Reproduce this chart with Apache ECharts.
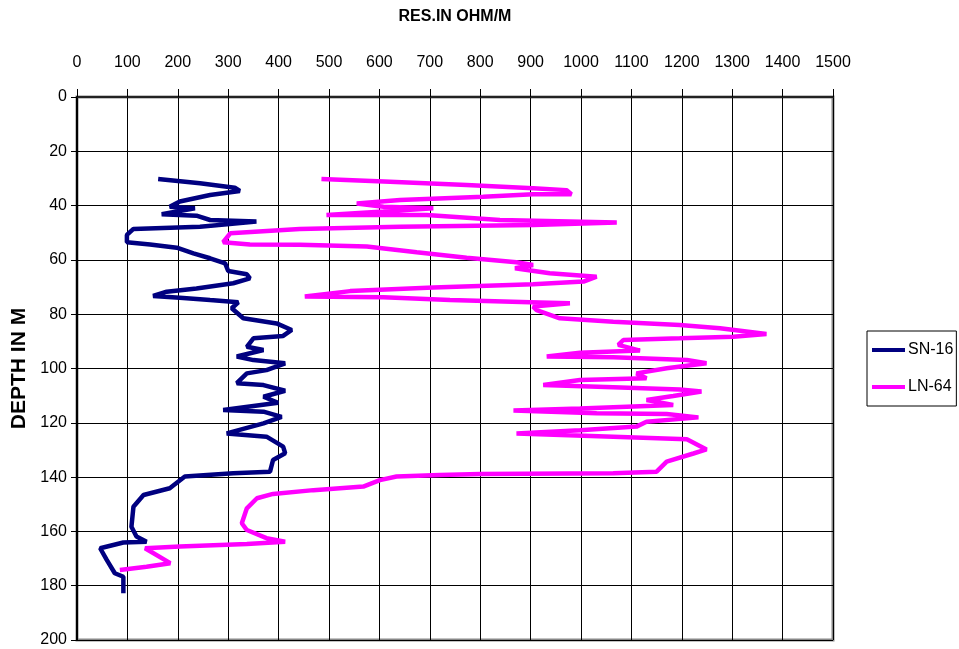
<!DOCTYPE html>
<html>
<head>
<meta charset="utf-8">
<script src="https://cdn.jsdelivr.net/npm/echarts@6/dist/echarts.min.js"></script>
<style>
  html, body { margin: 0; padding: 0; background: #fff; }
  #main { width: 959px; height: 649px; }
</style>
</head>
<body>
<div id="main"></div>
<script>
// SN-16 log: resistivity (ohm/m) and depth (m), in drawing order
var sn16Res = [161, 244, 313, 323, 264, 204, 184, 234, 168, 237, 264, 356, 244, 112, 99, 99, 145, 198, 231, 264,
    294, 300, 337, 343, 310, 237, 178, 151, 204, 264, 320, 307, 330, 396, 426, 409, 350, 337, 370, 317,
    350, 413, 376, 337, 317, 370, 413, 370, 399, 290, 370, 406, 370, 297, 376, 409, 413, 389, 383, 310,
    214, 184, 132, 112, 108, 118, 138, 92, 46, 59, 75, 92, 92];
var sn16Depth = [30.2, 31.8, 33.4, 34.6, 36.1, 38.5, 40.4, 41, 43.2, 43.7, 45.3, 45.9, 47.8, 48.6, 50.8, 53.5, 54.3, 55.5, 57.6, 59.4,
    61.3, 64.1, 65.3, 66.8, 68.6, 70.5, 71.7, 73.3, 73.9, 74.8, 75.6, 77.8, 81.5, 83.4, 85.8, 88, 88.9, 92, 93.2, 95.6,
    96.9, 98.1, 100.6, 101.8, 105.4, 106.1, 108.2, 110.4, 112.6, 115.3, 115.9, 117.8, 120.2, 123.9, 125.1, 128.8, 131.2, 133.7, 138, 138.6,
    139.8, 144.1, 146.6, 150.9, 158.3, 161.9, 163.8, 164.1, 166.2, 170.5, 175.4, 176.7, 182.8];

// LN-64 log
var ln64Res = [485, 621, 773, 905, 971, 981, 905, 806, 641, 555, 608, 707, 608, 495, 694, 839, 1071, 905, 641, 442,
    304, 290, 343, 442, 575, 674, 773, 872, 905, 869, 938, 1031, 1005, 905, 707, 542, 452, 608, 740, 899,
    978, 905, 912, 958, 1064, 1196, 1276, 1368, 1302, 1196, 1084, 1074, 1117, 998, 932, 1064, 1210, 1249, 1170, 1110,
    1130, 998, 925, 1064, 1196, 1239, 1183, 1130, 1183, 998, 866, 1031, 1170, 1233, 1130, 1110, 998, 872, 1064, 1210,
    1249, 1223, 1170, 1150, 1064, 800, 720, 634, 601, 568, 469, 389, 357, 337, 327, 337, 376, 413, 337, 204,
    135, 185, 138, 85];
var ln64Depth = [30.2, 31.2, 32.4, 33.6, 34.3, 35.8, 35.8, 36.7, 37.9, 39.2, 40.4, 41, 42.2, 43.5, 43.5, 45.3, 46.2, 47.1, 47.8, 48.6,
    50.2, 53.5, 54.3, 54.4, 55.1, 57.2, 59.2, 60.9, 61.9, 63.1, 64.9, 66.2, 68, 69, 70.2, 71.5, 73.5, 73.8, 74.8, 75.6,
    76, 77.2, 78.5, 81.5, 82.8, 84, 85.2, 87.3, 88.3, 88.9, 89.5, 91.3, 93.4, 94.2, 95.6, 95.9, 96.9, 98.1, 99.9, 101.8,
    103.6, 104.2, 106.1, 106.9, 107.7, 108.5, 110.1, 111.6, 113.4, 114.7, 115.5, 116.5, 116.8, 118, 119.6, 121.4, 122.7, 123.9, 125.1, 126.1,
    129.8, 131.3, 134.3, 138, 138.6, 138.9, 139.2, 139.8, 141.1, 143.5, 144.8, 146.2, 147.8, 151.5, 157, 159.5, 162.5, 163.8, 164.6, 165.6,
    166.2, 171.7, 173, 174.2];

var seriesNames = ['SN-16', 'LN-64'];
var seriesColors = ['#000080', '#ff00ff'];

function pairs(xs, ys){
    var out = [];
    for(var i = 0; i < xs.length; i++){
        out.push([xs[i], ys[i]]);
    }
    return out;
}

var font = "'Liberation Sans', Arial, sans-serif";

var myChart = echarts.init(document.getElementById('main'));
myChart.setOption({
    animation: false,
    color: seriesColors,
    grid: {
        left: 77, top: 97, right: 126, bottom: 9,
        outerBoundsMode: 'none',
        containLabel: false,
        show: true,
        borderColor: '#888',
        borderWidth: 3
    },
    legend: {
        orient: 'vertical',
        left: 867, top: 331,
        padding: [9, 3, 9, 5],
        itemGap: 17,
        itemWidth: 33, itemHeight: 4,
        icon: 'rect',
        borderColor: '#000', borderWidth: 1,
        textStyle: { fontFamily: font, fontSize: 16, color: '#000', lineHeight: 20, padding: [0, 0, 0, -2] },
        data: seriesNames
    },
    xAxis: {
        type: 'value',
        position: 'top',
        min: 0, max: 1500, interval: 100,
        name: 'RES.IN OHM/M',
        nameLocation: 'middle',
        nameGap: 72,
        nameTextStyle: { fontFamily: font, fontWeight: 'bold', fontSize: 16, color: '#000' },
        axisLine: { lineStyle: { color: '#222', width: 2 } },
        axisTick: { show: true, length: 8, lineStyle: { color: '#000' } },
        axisLabel: {
            margin: 26, fontFamily: font, fontSize: 16, color: '#000',
            formatter: function(v){ return String(v); }
        },
        splitLine: { lineStyle: { color: '#000', width: 1 } }
    },
    yAxis: {
        type: 'value',
        inverse: true,
        min: 0, max: 200, interval: 20,
        name: 'DEPTH IN M',
        nameLocation: 'middle',
        nameGap: 46,
        nameTextStyle: { fontFamily: font, fontWeight: 'bold', fontSize: 21, color: '#000' },
        axisLine: { lineStyle: { color: '#000', width: 2 } },
        axisTick: { show: true, length: 6, lineStyle: { color: '#000' } },
        axisLabel: { margin: 10, fontFamily: font, fontSize: 16, color: '#000' },
        splitLine: { lineStyle: { color: '#000', width: 1 } }
    },
    series: [{
        name: seriesNames[0],
        type: 'line',
        showSymbol: false,
        lineStyle: { width: 4.5, color: seriesColors[0] },
        data: pairs(sn16Res, sn16Depth)
    }, {
        name: seriesNames[1],
        type: 'line',
        showSymbol: false,
        lineStyle: { width: 4.5, color: seriesColors[1] },
        data: pairs(ln64Res, ln64Depth)
    }]
});
</script>
</body>
</html>
